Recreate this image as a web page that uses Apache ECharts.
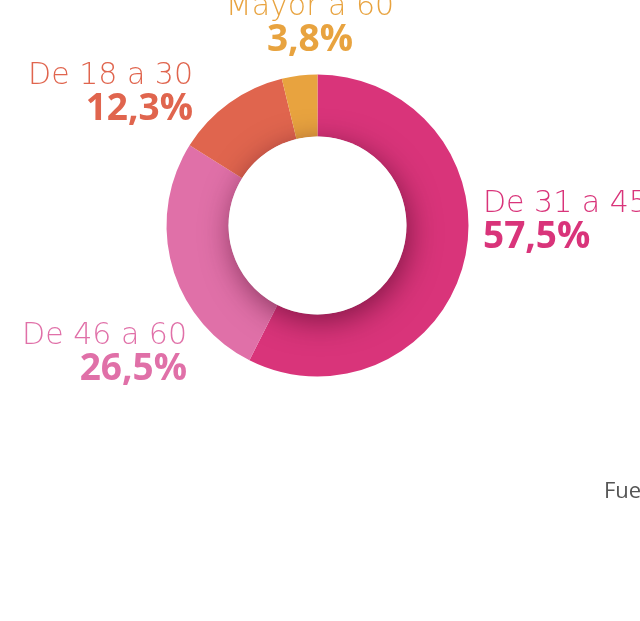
<!DOCTYPE html>
<html>
<head>
<meta charset="utf-8">
<script src="https://cdn.jsdelivr.net/npm/echarts@6/dist/echarts.min.js"></script>
<style>
  html, body { margin: 0; padding: 0; background: #fff; }
  #main { width: 640px; height: 621px; }
</style>
</head>
<body>
<div id="main"></div>
<script>
// datos del gráfico
const categories = ["De 31 a 45", "De 46 a 60", "De 18 a 30", "Mayor a 60"];
const values = [57.5, 26.5, 12.3, 3.8];
const colors = ["#d9347a", "#e070a8", "#e0654e", "#e8a33f"];

// posición de las etiquetas (x, y, alineación)
const labelPos = [
  { x: 483, y: 188, align: "left" },
  { x: 187, y: 320, align: "right" },
  { x: 193, y: 60, align: "right" },
  { x: 310, y: -9, align: "center" },
];

const myChart = echarts.init(document.getElementById("main"));

const option = {
  animation: false,
  series: [
    {
      type: "pie",
      center: [317.5, 225.5],
      radius: [89, 151],
      startAngle: 90,
      clockwise: true,
      itemStyle: { borderWidth: 0 },
      emphasis: { disabled: true },
      labelLine: { show: false },
      label: {
        show: true,
        position: "outside",
        overflow: "none",
        formatter: (p) =>
          "{n|" + p.name + "}\n{v|" + String(p.value).replace(".", ",") + "%}",
        rich: {
          n: { fontFamily: "DejaVu Sans", fontWeight: 200, fontSize: 30, lineHeight: 33 },
          v: { fontFamily: "Open Sans", fontWeight: "bold", fontSize: 37, lineHeight: 33 },
        },
      },
      labelLayout: (params) => {
        const lp = labelPos[params.dataIndex];
        return { x: lp.x, y: lp.y, align: lp.align, verticalAlign: "top" };
      },
      data: categories.map((c, i) => ({
        name: c,
        value: values[i],
        itemStyle: { color: colors[i] },
        label: { color: colors[i] },
      })),
    },
    {
      // centro blanco con sombra interior
      type: "pie",
      center: [317.5, 225.5],
      radius: [0, 89],
      silent: true,
      label: { show: false },
      labelLine: { show: false },
      itemStyle: {
        color: "#ffffff",
        shadowBlur: 30,
        shadowColor: "rgba(60, 0, 30, 0.55)",
        shadowOffsetX: 3,
        shadowOffsetY: 7,
      },
      data: [{ value: 1, name: "" }],
    },
  ],
  graphic: [
    {
      type: "text",
      left: 604,
      top: 481,
      style: {
        text: "Fuente: elaboración propia",
        fill: "#555555",
        font: "22px 'Open Sans'",
      },
    },
  ],
};

myChart.setOption(option);
</script>
</body>
</html>
